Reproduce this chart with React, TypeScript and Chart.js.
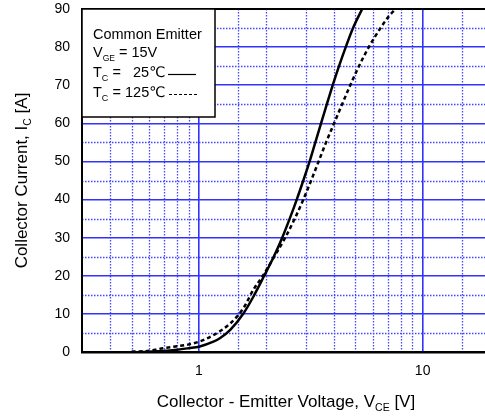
import React, { useEffect, useRef } from "react";
import { Chart, registerables } from "chart.js";

Chart.register(...registerables);

// Collector-emitter voltage (V) and collector current (A), Tc = 25 °C
const vce25 = [0.55, 0.62, 0.69, 0.8, 0.9, 1.0, 1.16, 1.24, 1.38, 1.58, 1.75, 1.957, 2.159, 2.356, 2.545, 2.736, 2.927, 3.124, 3.313, 3.513, 3.727, 3.962, 4.227, 4.53, 4.884, 5.365];
const ic25 = [0, 0.1, 0.25, 0.6, 1.0, 1.4, 2.7, 3.6, 5.8, 10.1, 14.5, 20, 25, 30, 35, 40, 45, 50, 55, 60, 65, 70, 75, 80, 85, 90];

// Tc = 125 °C
const vce125 = [0.5, 0.6, 0.69, 0.8, 0.9, 1.0, 1.15, 1.38, 1.58, 1.75, 1.931, 2.169, 2.43, 2.681, 2.927, 3.172, 3.427, 3.7, 4.018, 4.364, 4.746, 5.191, 5.743, 6.481, 7.04, 7.566];
const ic125 = [0.1, 0.3, 1.0, 1.5, 2.0, 2.7, 4.3, 7.5, 11.5, 16.3, 20, 25, 30, 35, 40, 45, 50, 55, 60, 65, 70, 75, 80, 85, 88, 90];

const xMin = 0.3;
const xMax = 20;
const yMin = 0;
const yMax = 90;
const yStep = 10;
const xLabelTicks = [1, 10];
const yMinorGrid = [5, 15, 25, 35, 45, 55, 65, 75, 85];

const FONT = "'Liberation Sans', Arial, 'DejaVu Sans', sans-serif";

type Part = { t: string; sub?: boolean };

function drawRich(ctx: CanvasRenderingContext2D, parts: Part[], x: number, y: number, size: number, subSize: number, subDy: number, center = false) {
  let total = 0;
  for (const p of parts) {
    ctx.font = `${p.sub ? subSize : size}px ${FONT}`;
    total += ctx.measureText(p.t).width;
  }
  let cx = center ? x - total / 2 : x;
  for (const p of parts) {
    ctx.font = `${p.sub ? subSize : size}px ${FONT}`;
    ctx.fillText(p.t, cx, p.sub ? y + subDy : y);
    cx += ctx.measureText(p.t).width;
  }
  return cx;
}

const decorPlugin = {
  id: "decor",
  beforeDatasetsDraw(chart: any) {
    const { ctx, chartArea } = chart;
    const { left, right, top, bottom } = chartArea;
    const xs = chart.scales.x;
    const ys = chart.scales.y;
    ctx.save();
    ctx.beginPath();
    ctx.rect(left + 1, top, right - left - 1, bottom - top - 1);
    ctx.clip();
    ctx.setLineDash([1.5, 1.5]);
    ctx.strokeStyle = "rgba(50,50,255,0.9)";
    ctx.lineWidth = 1.3;
    ctx.beginPath();
    for (const t of xs.ticks) {
      const v = t.value;
      if (xLabelTicks.includes(v) || v <= xMin || v >= xMax) continue;
      const px = Math.round(xs.getPixelForValue(v)) + 0.5;
      ctx.moveTo(px, top);
      ctx.lineTo(px, bottom);
    }
    for (const v of yMinorGrid) {
      const py = Math.round(ys.getPixelForValue(v)) + 0.5;
      ctx.moveTo(left, py);
      ctx.lineTo(right, py);
    }
    ctx.stroke();
    ctx.restore();
  },
  afterDraw(chart: any) {
    const { ctx, chartArea } = chart;
    const { left, right, top, bottom } = chartArea;
    ctx.save();
    // top border
    ctx.strokeStyle = "#000";
    ctx.lineWidth = 2;
    ctx.beginPath();
    ctx.moveTo(left - 1, top);
    ctx.lineTo(right, top);
    ctx.stroke();

    // legend box
    const bw = 133;
    const bh = 108;
    ctx.fillStyle = "#fff";
    ctx.fillRect(left, top, bw, bh);
    ctx.lineWidth = 1.5;
    ctx.strokeRect(left, top, bw, bh);

    ctx.fillStyle = "#000";
    ctx.textBaseline = "alphabetic";
    ctx.textAlign = "left";
    const tx = left + 11;
    ctx.font = `14.5px ${FONT}`;
    ctx.fillText("Common Emitter", tx, top + 30);
    drawRich(ctx, [{ t: "V" }, { t: "GE", sub: true }, { t: " = 15V" }], tx, top + 48, 14.5, 8.5, 4);
    drawRich(ctx, [{ t: "T" }, { t: "C", sub: true }, { t: " =" }], tx, top + 68, 14.5, 9, 4);
    ctx.font = `14.5px ${FONT}`;
    ctx.fillText("25\u2103", left + 51, top + 68);
    drawRich(ctx, [{ t: "T" }, { t: "C", sub: true }, { t: " =" }], tx, top + 88, 14.5, 9, 4);
    ctx.font = `14.5px ${FONT}`;
    ctx.fillText("125\u2103", left + 43, top + 88);

    ctx.lineWidth = 1.2;
    ctx.beginPath();
    ctx.moveTo(left + 86, top + 65.5);
    ctx.lineTo(left + 114, top + 65.5);
    ctx.stroke();
    ctx.setLineDash([3, 2]);
    ctx.beginPath();
    ctx.moveTo(left + 87, top + 85.5);
    ctx.lineTo(left + 115, top + 85.5);
    ctx.stroke();
    ctx.setLineDash([]);

    // x title
    const cxm = (left + right) / 2;
    drawRich(ctx, [{ t: "Collector - Emitter Voltage, V" }, { t: "CE", sub: true }, { t: " [V]" }], cxm, 407, 17, 10.5, 4, true);

    // y title
    ctx.save();
    ctx.translate(27, (top + bottom) / 2);
    ctx.rotate(-Math.PI / 2);
    drawRich(ctx, [{ t: "Collector Current, I" }, { t: "C", sub: true }, { t: " [A]" }], 0, 0, 17, 10.5, 4, true);
    ctx.restore();

    ctx.restore();
  },
};

export default function App() {
  const ref = useRef<HTMLCanvasElement>(null);
  useEffect(() => {
    const d25 = vce25.map((v, i) => ({ x: v, y: ic25[i] }));
    const d125 = vce125.map((v, i) => ({ x: v, y: ic125[i] }));
    const chart = new Chart(ref.current as HTMLCanvasElement, {
      type: "scatter",
      data: {
        datasets: [
          {
            label: "Tc = 25℃",
            data: d25,
            showLine: true,
            borderColor: "#000",
            borderWidth: 2.5,
            pointRadius: 0,
            cubicInterpolationMode: "monotone",
          },
          {
            label: "Tc = 125℃",
            data: d125,
            showLine: true,
            borderColor: "#000",
            borderWidth: 2.5,
            borderDash: [4, 3],
            pointRadius: 0,
            cubicInterpolationMode: "monotone",
          },
        ],
      },
      options: {
        responsive: false,
        animation: false,
        devicePixelRatio: 1,
        layout: { padding: { top: 9, left: 0, right: 0, bottom: 0 } },
        plugins: { legend: { display: false }, tooltip: { enabled: false } },
        scales: {
          x: {
            type: "logarithmic",
            min: xMin,
            max: xMax,
            afterFit: (s: any) => {
              s.height = 66;
              s.paddingLeft = 0;
              s.paddingRight = 0;
            },
            border: { display: true, color: "#000", width: 2.5 },
            grid: {
              drawTicks: false,
              lineWidth: 1.6,
              color: (c: any) => (c.tick && xLabelTicks.includes(c.tick.value) ? "rgb(50,50,255)" : "rgba(0,0,0,0)"),
            },
            ticks: {
              autoSkip: false,
              maxRotation: 0,
              padding: 11,
              color: "#000",
              font: { family: FONT, size: 14 },
              callback: (v: any) => (xLabelTicks.includes(Number(v)) ? String(v) : ""),
            },
          },
          y: {
            type: "linear",
            min: yMin,
            max: yMax,
            afterFit: (s: any) => {
              s.width = 82;
              s.paddingTop = 0;
              s.paddingBottom = 0;
            },
            border: { display: true, color: "#000", width: 2 },
            grid: {
              drawTicks: false,
              lineWidth: 1.5,
              color: (c: any) =>
                c.tick && c.tick.value > yMin && c.tick.value < yMax ? "rgb(50,50,255)" : "rgba(0,0,0,0)",
            },
            ticks: {
              stepSize: yStep,
              padding: 12,
              color: "#000",
              font: { family: FONT, size: 14 },
            },
          },
        },
      },
      plugins: [decorPlugin],
    } as any);
    return () => chart.destroy();
  }, []);
  return (
    <div style={{ position: "fixed", left: 0, top: 0, width: 485, height: 418, overflow: "hidden", background: "#fff" }}>
      <canvas ref={ref} width={490} height={418} style={{ display: "block", width: 490, height: 418 }} />
    </div>
  );
}
